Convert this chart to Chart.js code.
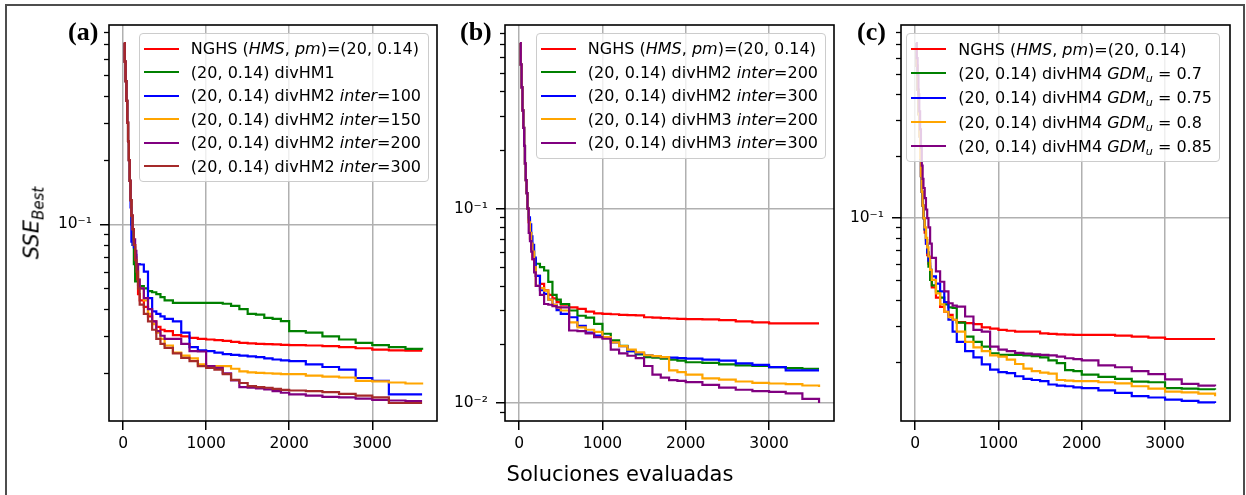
<!DOCTYPE html>
<html lang="es">
<head>
<meta charset="utf-8">
<script src="https://cdn.jsdelivr.net/npm/chart.js@4.4.1/dist/chart.umd.min.js"></script>
<style>
  html, body { margin: 0; padding: 0; background: #fff; }
  body { width: 1246px; height: 495px; position: relative; overflow: hidden; font-family: 'DejaVu Sans', sans-serif; color: #000; }
  .marco { position: absolute; left: 5px; top: 4px; width: 1236px; height: 520px; border: 2px solid #4d4d4d; }
  canvas.panel { position: absolute; top: 0; }
  .letra { position: absolute; top: 19px; font: bold 26px 'Liberation Serif', serif; line-height: 26px; }
  .leyenda { position: absolute; top: 33px; background: rgba(255,255,255,0.8); border: 1px solid #cccccc; border-radius: 4px; padding: 3px 7px 3px 4px; font-size: 16px; }
  .fila { height: 23.5px; white-space: nowrap; display: flex; align-items: center; }
  .leyenda.alta .fila { height: 24.3px; }
  .muestra { display: inline-block; width: 35px; height: 2px; margin-right: 12px; }
  .fila sub { font-size: 70%; line-height: 0; vertical-align: -0.3em; }
  .titulo-x { position: absolute; left: 620px; top: 464px; transform: translateX(-50%); font-size: 21px; line-height: 21px; white-space: nowrap; }
  .titulo-y { position: absolute; left: 32px; top: 223px; transform: translate(-50%, -50%) rotate(-90deg); font-size: 21px; font-style: italic; line-height: 21px; white-space: nowrap; }
  .titulo-y sub { font-size: 15px; line-height: 0; vertical-align: -5px; }
</style>
</head>
<body>
<div class="marco"></div>

<canvas id="panelA" class="panel" width="445" height="495" style="left:0"></canvas>
<canvas id="panelB" class="panel" width="395" height="495" style="left:445px"></canvas>
<canvas id="panelC" class="panel" width="406" height="495" style="left:840px"></canvas>

<div class="letra" style="left:68px">(a)</div>
<div class="letra" style="left:460px">(b)</div>
<div class="letra" style="left:857px">(c)</div>

<div class="titulo-y">SSE<sub>Best</sub></div>
<div class="titulo-x">Soluciones evaluadas</div>

<div id="leyendaA" class="leyenda" style="right:817px"></div>
<div id="leyendaB" class="leyenda" style="right:420px"></div>
<div id="leyendaC" class="leyenda alta" style="right:26px"></div>

<script>
// soluciones evaluadas (eje x común a los tres paneles)
const evaluaciones = [10, 20, 30, 40, 50, 60, 70, 80, 90, 100, 115, 130, 145, 160, 180, 200,
  250, 300, 350, 400, 450, 500,
  600, 700, 800, 900, 1000, 1100, 1200, 1300, 1400, 1500, 1600, 1700, 1800, 1900,
  2000, 2200, 2400, 2600, 2800, 3000, 3200, 3400, 3600];
const ticksX = [0, 1000, 2000, 3000];

// (a) SSE del mejor individuo
const nghsA = [0.71, 0.58, 0.47, 0.38, 0.30, 0.245, 0.20, 0.16, 0.13, 0.11, 0.095, 0.08, 0.07, 0.055, 0.047, 0.044,
  0.041, 0.037, 0.035, 0.033, 0.032, 0.0315,
  0.0302, 0.0298, 0.0293, 0.029, 0.0288, 0.0286, 0.0284, 0.0281, 0.0278, 0.0276, 0.0275, 0.0274, 0.0273, 0.0272,
  0.0271, 0.027, 0.0268, 0.0265, 0.0262, 0.0258, 0.0256, 0.0255, 0.0255];
const divHM1A = [0.71, 0.58, 0.47, 0.38, 0.30, 0.245, 0.20, 0.16, 0.13, 0.10, 0.08, 0.065, 0.054, 0.054, 0.052, 0.0513,
  0.05, 0.0486, 0.048, 0.047, 0.0455, 0.044,
  0.0428, 0.0428, 0.0428, 0.0428, 0.0428, 0.0428, 0.0424, 0.0414, 0.04, 0.038, 0.0377, 0.0364, 0.036, 0.0351,
  0.0315, 0.031, 0.0298, 0.0288, 0.0278, 0.0271, 0.0265, 0.026, 0.0258];
const divHM2i100A = [0.71, 0.58, 0.47, 0.38, 0.30, 0.245, 0.20, 0.16, 0.12, 0.083, 0.08, 0.078, 0.072, 0.065, 0.065, 0.0648,
  0.06, 0.045, 0.039, 0.038, 0.037, 0.036,
  0.035, 0.031, 0.0265, 0.0256, 0.0254, 0.025, 0.0246, 0.0244, 0.0242, 0.024, 0.0238, 0.0235, 0.0232, 0.023,
  0.0228, 0.022, 0.0214, 0.0208, 0.019, 0.0184, 0.0159, 0.0159, 0.0159];
const divHM2i150A = [0.71, 0.58, 0.47, 0.38, 0.30, 0.245, 0.20, 0.16, 0.13, 0.11, 0.095, 0.08, 0.07, 0.065, 0.055, 0.05,
  0.044, 0.038, 0.034, 0.031, 0.029, 0.027,
  0.025, 0.0242, 0.0235, 0.022, 0.0216, 0.0216, 0.0216, 0.021, 0.0204, 0.0202, 0.0201, 0.02, 0.0199, 0.0198,
  0.0198, 0.0195, 0.0193, 0.0191, 0.0184, 0.0183, 0.0181, 0.0179, 0.0177];
const divHM2i200A = [0.71, 0.58, 0.47, 0.38, 0.30, 0.245, 0.20, 0.16, 0.13, 0.11, 0.095, 0.085, 0.075, 0.065, 0.055, 0.05,
  0.045, 0.04, 0.035, 0.0315, 0.03, 0.029,
  0.029, 0.0275, 0.0254, 0.0253, 0.0216, 0.0212, 0.02, 0.0185, 0.0172, 0.0171, 0.017, 0.0168, 0.0165, 0.0162,
  0.0159, 0.0157, 0.0155, 0.0154, 0.0152, 0.015, 0.0149, 0.0148, 0.0148];
const divHM2i300A = [0.71, 0.58, 0.47, 0.38, 0.30, 0.245, 0.20, 0.16, 0.13, 0.11, 0.095, 0.08, 0.068, 0.06, 0.05, 0.042,
  0.038, 0.035, 0.032, 0.029, 0.0275, 0.0263,
  0.0248, 0.0236, 0.0228, 0.0216, 0.0212, 0.0208, 0.0198, 0.0186, 0.018, 0.0174, 0.0172, 0.0171, 0.0169, 0.0167,
  0.0166, 0.0165, 0.0163, 0.016, 0.0157, 0.0154, 0.0145, 0.0145, 0.0145];

// (b)
const nghsB = [0.71, 0.55, 0.42, 0.32, 0.26, 0.21, 0.17, 0.14, 0.12, 0.10, 0.085, 0.07, 0.062, 0.055, 0.05, 0.045,
  0.041, 0.038, 0.036, 0.0345, 0.033, 0.032,
  0.031, 0.0305, 0.0295, 0.0289, 0.0287, 0.0286, 0.0284, 0.0283, 0.0282, 0.0276, 0.0275, 0.0273, 0.0272, 0.0271,
  0.027, 0.0269, 0.0267, 0.0263, 0.026, 0.0257, 0.0257, 0.0257, 0.0257];
const divHM2i200B = [0.71, 0.55, 0.42, 0.32, 0.26, 0.21, 0.17, 0.14, 0.12, 0.10, 0.088, 0.075, 0.066, 0.06, 0.055, 0.052,
  0.05, 0.048, 0.042, 0.036, 0.034, 0.0323,
  0.0299, 0.0281, 0.0275, 0.0255, 0.0227, 0.021, 0.0197, 0.0185, 0.0178, 0.0172, 0.0171, 0.0169, 0.0167, 0.0165,
  0.0162, 0.0161, 0.0158, 0.0156, 0.0155, 0.0153, 0.0151, 0.015, 0.015];
const divHM2i300B = [0.71, 0.55, 0.42, 0.32, 0.26, 0.21, 0.17, 0.14, 0.12, 0.10, 0.09, 0.083, 0.072, 0.065, 0.056, 0.045,
  0.038, 0.0364, 0.034, 0.032, 0.03, 0.0287,
  0.0276, 0.0249, 0.023, 0.0222, 0.0218, 0.0205, 0.0196, 0.0185, 0.018, 0.0176, 0.0174, 0.0172, 0.0171, 0.017,
  0.0169, 0.0167, 0.0165, 0.016, 0.0157, 0.0153, 0.0147, 0.0147, 0.0147];
const divHM3i200B = [0.71, 0.55, 0.42, 0.32, 0.26, 0.21, 0.17, 0.14, 0.12, 0.10, 0.085, 0.075, 0.066, 0.06, 0.05, 0.04,
  0.039, 0.0378, 0.034, 0.032, 0.031, 0.0299,
  0.026, 0.0245, 0.0238, 0.0232, 0.0218, 0.0205, 0.0196, 0.0188, 0.0182, 0.0176, 0.0174, 0.0172, 0.0147, 0.0144,
  0.014, 0.0134, 0.0132, 0.0129, 0.0127, 0.0126, 0.0125, 0.0123, 0.0121];
const divHM3i300B = [0.71, 0.55, 0.42, 0.32, 0.26, 0.21, 0.17, 0.14, 0.12, 0.10, 0.075, 0.068, 0.06, 0.055, 0.047, 0.04,
  0.036, 0.0323, 0.032, 0.0315, 0.031, 0.031,
  0.0236, 0.0234, 0.0228, 0.0218, 0.0214, 0.0188, 0.018, 0.0175, 0.017, 0.0155, 0.014, 0.0135, 0.0131, 0.013,
  0.0128, 0.0124, 0.012, 0.0117, 0.0115, 0.0114, 0.0112, 0.0105, 0.01];

// (c)
const nghsC = [0.71, 0.55, 0.42, 0.32, 0.25, 0.195, 0.16, 0.134, 0.115, 0.10, 0.085, 0.075, 0.066, 0.06, 0.05, 0.046,
  0.041, 0.037, 0.035, 0.0338, 0.032, 0.0312,
  0.0308, 0.0305, 0.0294, 0.029, 0.0286, 0.0283, 0.028, 0.028, 0.028, 0.0275, 0.0273, 0.0272, 0.0271, 0.027,
  0.027, 0.027, 0.0268, 0.0265, 0.0262, 0.0258, 0.0258, 0.0258, 0.0258];
const gdm070C = [0.71, 0.55, 0.42, 0.32, 0.25, 0.195, 0.16, 0.134, 0.115, 0.10, 0.088, 0.078, 0.068, 0.058, 0.05, 0.047,
  0.044, 0.041, 0.038, 0.0368, 0.0365, 0.031,
  0.0265, 0.025, 0.0237, 0.022, 0.0216, 0.0216, 0.0216, 0.0215, 0.0213, 0.021, 0.0203, 0.0197, 0.0182, 0.018,
  0.0173, 0.0169, 0.0165, 0.016, 0.0159, 0.0149, 0.0148, 0.0147, 0.0146];
const gdm075C = [0.71, 0.55, 0.42, 0.32, 0.25, 0.195, 0.16, 0.134, 0.115, 0.10, 0.088, 0.075, 0.068, 0.062, 0.056, 0.052,
  0.048, 0.044, 0.039, 0.032, 0.028, 0.025,
  0.0225, 0.021, 0.0194, 0.0183, 0.0178, 0.0176, 0.017, 0.0165, 0.0163, 0.0161, 0.0155, 0.0153, 0.0152, 0.015,
  0.0149, 0.0145, 0.0141, 0.0136, 0.0134, 0.0131, 0.0129, 0.0127, 0.0126];
const gdm080C = [0.71, 0.55, 0.42, 0.32, 0.25, 0.195, 0.16, 0.134, 0.115, 0.10, 0.09, 0.08, 0.072, 0.065, 0.056, 0.05,
  0.043, 0.038, 0.035, 0.033, 0.032, 0.028,
  0.025, 0.0235, 0.0225, 0.0215, 0.0212, 0.0205, 0.0195, 0.0185, 0.018, 0.0177, 0.0175, 0.0163, 0.0162, 0.0161,
  0.0161, 0.0159, 0.0157, 0.0152, 0.0148, 0.0143, 0.0142, 0.014, 0.0136];
const gdm085C = [0.71, 0.60, 0.50, 0.40, 0.33, 0.27, 0.22, 0.18, 0.155, 0.14, 0.125, 0.11, 0.10, 0.09, 0.075, 0.064,
  0.055, 0.049, 0.044, 0.0385, 0.0375, 0.0371,
  0.0332, 0.0286, 0.028, 0.0237, 0.0229, 0.0225, 0.0221, 0.0219, 0.0217, 0.0216, 0.0215, 0.0212, 0.0208, 0.0206,
  0.0203, 0.0192, 0.0188, 0.018, 0.0174, 0.0164, 0.0156, 0.0153, 0.0152];

const etiquetaNGHS = 'NGHS (<i>HMS</i>, <i>pm</i>)=(20, 0.14)';
const etiquetasA = [etiquetaNGHS, '(20, 0.14) divHM1',
  '(20, 0.14) divHM2 <i>inter</i>=100', '(20, 0.14) divHM2 <i>inter</i>=150',
  '(20, 0.14) divHM2 <i>inter</i>=200', '(20, 0.14) divHM2 <i>inter</i>=300'];
const etiquetasB = [etiquetaNGHS,
  '(20, 0.14) divHM2 <i>inter</i>=200', '(20, 0.14) divHM2 <i>inter</i>=300',
  '(20, 0.14) divHM3 <i>inter</i>=200', '(20, 0.14) divHM3 <i>inter</i>=300'];
const etiquetasC = [etiquetaNGHS,
  '(20, 0.14) divHM4 <i>GDM</i><sub><i>u</i></sub> = 0.7', '(20, 0.14) divHM4 <i>GDM</i><sub><i>u</i></sub> = 0.75',
  '(20, 0.14) divHM4 <i>GDM</i><sub><i>u</i></sub> = 0.8', '(20, 0.14) divHM4 <i>GDM</i><sub><i>u</i></sub> = 0.85'];

const colores = ['red', 'green', 'blue', 'orange', 'purple', 'brown'];

Chart.defaults.font.family = "'DejaVu Sans', sans-serif";
Chart.defaults.color = '#000';

const SUPER = { '-': '\u207B', '0': '\u2070', '1': '\u00B9', '2': '\u00B2', '3': '\u00B3',
  '4': '\u2074', '5': '\u2075', '6': '\u2076', '7': '\u2077', '8': '\u2078', '9': '\u2079' };

function etiquetaLog(v) {
  const e = Math.log10(v);
  if (Math.abs(e - Math.round(e)) > 1e-6) return '';
  return '10' + String(Math.round(e)).split('').map(c => SUPER[c]).join('');
}

// ticks 1..9 x 10^n dentro del rango; solo las potencias de diez son mayores
function ticksLog(min, max) {
  const ticks = [];
  for (let e = Math.floor(Math.log10(min)); e <= Math.ceil(Math.log10(max)); e++) {
    for (let m = 1; m <= 9; m++) {
      const v = m * Math.pow(10, e);
      if (v >= min && v <= max) ticks.push({ value: v, major: m === 1 });
    }
  }
  return ticks;
}

// marco completo del área y ticks menores del eje log
const marcoEjes = {
  id: 'marcoEjes',
  afterDatasetsDraw(chart) {
    const { ctx, chartArea: a, scales } = chart;
    ctx.save();
    ctx.strokeStyle = '#000';
    ctx.lineWidth = 1.3;
    scales.y.ticks.forEach(t => {
      if (t.major) return;
      const y = Math.round(scales.y.getPixelForValue(t.value)) + 0.5;
      ctx.beginPath();
      ctx.moveTo(a.left - 5, y);
      ctx.lineTo(a.left, y);
      ctx.stroke();
    });
    ctx.lineWidth = 1.6;
    ctx.strokeRect(a.left, a.top, a.right - a.left, a.bottom - a.top);
    ctx.restore();
  }
};

function crearPanel(id, series, padIzq, padDer) {
  const todos = series.flat();
  const yMin = Math.min(...todos), yMax = Math.max(...todos);
  const margenY = Math.pow(yMax / yMin, 0.05);
  const x0 = evaluaciones[0], x1 = evaluaciones[evaluaciones.length - 1];
  const margenX = 0.05 * (x1 - x0);

  new Chart(document.getElementById(id), {
    type: 'line',
    data: {
      datasets: series.map((valores, i) => ({
        data: evaluaciones.map((x, k) => ({ x: x, y: valores[k] })),
        borderColor: colores[i],
        borderWidth: 2.2,
        pointRadius: 0,
        stepped: true,
        fill: false,
        order: series.length - i
      }))
    },
    options: {
      responsive: false,
      animation: false,
      devicePixelRatio: 1,
      layout: { padding: { left: padIzq, right: padDer, top: 25, bottom: 34 } },
      plugins: { legend: { display: false }, tooltip: { enabled: false } },
      scales: {
        x: {
          type: 'linear',
          bounds: 'data',
          min: x0 - margenX,
          max: x1 + margenX,
          afterBuildTicks: ax => { ax.ticks = ticksX.map(v => ({ value: v })); },
          afterFit: ax => { ax.height = 40; },
          border: { display: false },
          grid: { color: '#b0b0b0', lineWidth: 1.5, tickColor: '#000', tickLength: 9, tickWidth: 1.5 },
          ticks: { callback: v => String(v), font: { size: 15.5 }, color: '#000', padding: 5, maxRotation: 0, autoSkip: false }
        },
        y: {
          type: 'logarithmic',
          bounds: 'data',
          min: yMin / margenY,
          max: yMax * margenY,
          afterBuildTicks: ax => { ax.ticks = ticksLog(ax.min, ax.max); },
          afterFit: ax => { ax.width = 60; },
          border: { display: false },
          grid: {
            color: c => (c.tick && c.tick.major) ? '#b0b0b0' : 'rgba(0,0,0,0)',
            tickColor: c => (c.tick && c.tick.major) ? '#000' : 'rgba(0,0,0,0)',
            lineWidth: 1.5, tickLength: 9, tickWidth: 1.5
          },
          ticks: { callback: v => etiquetaLog(v), font: { size: 15.5 }, color: '#000', padding: 8, autoSkip: false }
        }
      }
    },
    plugins: [marcoEjes]
  });
}

function crearLeyenda(id, etiquetas) {
  const caja = document.getElementById(id);
  etiquetas.forEach((texto, i) => {
    const fila = document.createElement('div');
    fila.className = 'fila';
    fila.innerHTML = '<span class="muestra" style="background:' + colores[i] + '"></span><span>' + texto + '</span>';
    caja.appendChild(fila);
  });
}

crearPanel('panelA', [nghsA, divHM1A, divHM2i100A, divHM2i150A, divHM2i200A, divHM2i300A], 49, 8);
crearPanel('panelB', [nghsB, divHM2i200B, divHM2i300B, divHM3i200B, divHM3i300B], 0, 6);
crearPanel('panelC', [nghsC, gdm070C, gdm075C, gdm080C, gdm085C], 1, 16);

crearLeyenda('leyendaA', etiquetasA);
crearLeyenda('leyendaB', etiquetasB);
crearLeyenda('leyendaC', etiquetasC);
</script>
</body>
</html>
